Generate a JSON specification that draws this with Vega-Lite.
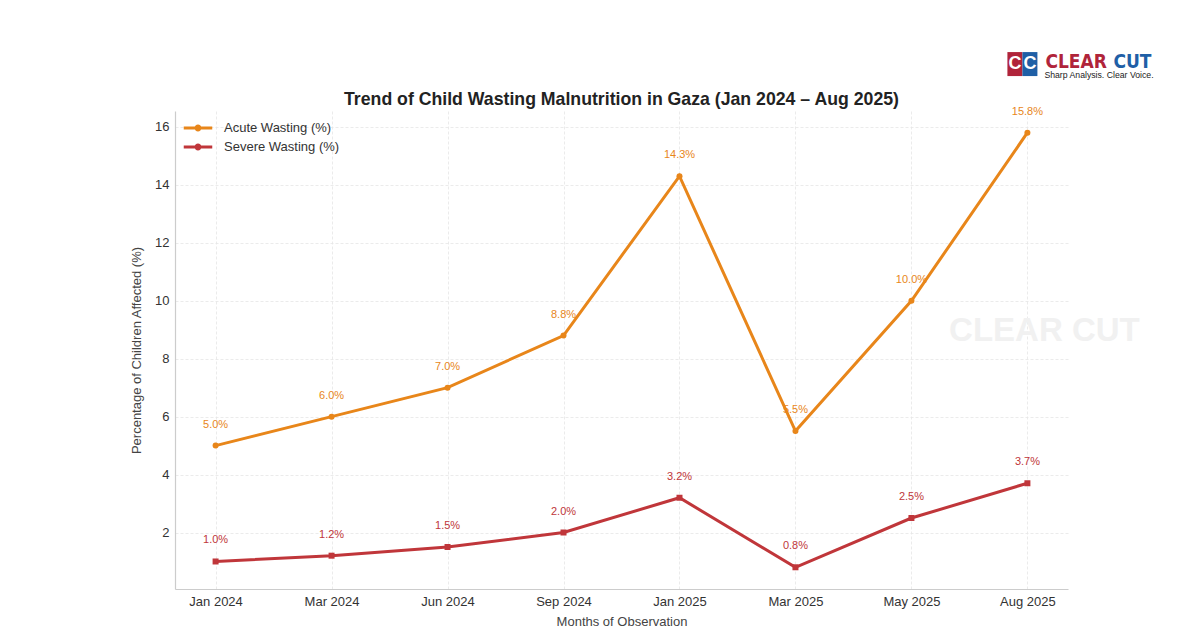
{
  "$schema": "https://vega.github.io/schema/vega-lite/v6.json",
  "autosize": "none",
  "width": 893,
  "height": 478,
  "padding": {"left": 175, "top": 111, "right": 132, "bottom": 41},
  "background": "white",
  "config": {
    "font": "Liberation Sans",
    "view": {"stroke": null},
    "axis": {"labelFont": "Liberation Sans", "titleFont": "Liberation Sans", "labelColor": "#333333", "titleColor": "#444444", "labelFontSize": 13, "titleFontSize": 13, "titleFontWeight": "normal", "domainColor": "#cccccc", "domainWidth": 1.2, "gridColor": "#e6e6e6", "gridDash": [3, 2], "gridWidth": 0.8, "ticks": false}
  },
  "title": {"text": "Trend of Child Wasting Malnutrition in Gaza (Jan 2024 – Aug 2025)", "fontSize": 17.7, "fontWeight": "bold", "color": "#222222", "font": "Liberation Sans", "offset": -57},
  "datasets": {
    "main": [
      {"month": "Jan 2024", "series": "Acute Wasting (%)", "value": 5.0, "label": "5.0%"},
      {"month": "Mar 2024", "series": "Acute Wasting (%)", "value": 6.0, "label": "6.0%"},
      {"month": "Jun 2024", "series": "Acute Wasting (%)", "value": 7.0, "label": "7.0%"},
      {"month": "Sep 2024", "series": "Acute Wasting (%)", "value": 8.8, "label": "8.8%"},
      {"month": "Jan 2025", "series": "Acute Wasting (%)", "value": 14.3, "label": "14.3%"},
      {"month": "Mar 2025", "series": "Acute Wasting (%)", "value": 5.5, "label": "5.5%"},
      {"month": "May 2025", "series": "Acute Wasting (%)", "value": 10.0, "label": "10.0%"},
      {"month": "Aug 2025", "series": "Acute Wasting (%)", "value": 15.8, "label": "15.8%"},
      {"month": "Jan 2024", "series": "Severe Wasting (%)", "value": 1.0, "label": "1.0%"},
      {"month": "Mar 2024", "series": "Severe Wasting (%)", "value": 1.2, "label": "1.2%"},
      {"month": "Jun 2024", "series": "Severe Wasting (%)", "value": 1.5, "label": "1.5%"},
      {"month": "Sep 2024", "series": "Severe Wasting (%)", "value": 2.0, "label": "2.0%"},
      {"month": "Jan 2025", "series": "Severe Wasting (%)", "value": 3.2, "label": "3.2%"},
      {"month": "Mar 2025", "series": "Severe Wasting (%)", "value": 0.8, "label": "0.8%"},
      {"month": "May 2025", "series": "Severe Wasting (%)", "value": 2.5, "label": "2.5%"},
      {"month": "Aug 2025", "series": "Severe Wasting (%)", "value": 3.7, "label": "3.7%"}
    ],
    "brand": [
      {"month": "Aug 2025", "value": 8.95, "t": "CLEAR CUT", "role": "watermark"},
      {"month": "Aug 2025", "value": 18.02, "t": "CLEAR", "role": "logo1"},
      {"month": "Aug 2025", "value": 18.02, "t": "CUT", "role": "logo2"},
      {"month": "Aug 2025", "value": 17.68, "t": "Sharp Analysis. Clear Voice.", "role": "tagline"},
      {"month": "Aug 2025", "value": 18.17, "t": "C", "role": "icon"}
    ]
  },
  "encoding": {
    "x": {"field": "month", "type": "ordinal", "sort": ["Jan 2024", "Mar 2024", "Jun 2024", "Sep 2024", "Jan 2025", "Mar 2025", "May 2025", "Aug 2025"],
      "scale": {"type": "point", "padding": 0.35},
      "axis": {"title": "Months of Observation", "labelAngle": 0, "grid": true, "labelPadding": 6, "titlePadding": 7}},
    "y": {"field": "value", "type": "quantitative",
      "scale": {"domain": [0.05, 16.55], "nice": false, "zero": false},
      "axis": {"title": "Percentage of Children Affected (%)", "values": [2, 4, 6, 8, 10, 12, 14, 16], "grid": true, "labelPadding": 6, "titlePadding": 11}}
  },
  "layer": [
    {"data": {"name": "main"}, "mark": {"type": "line", "strokeWidth": 3},
      "encoding": {"color": {"field": "series", "type": "nominal",
        "scale": {"domain": ["Acute Wasting (%)", "Severe Wasting (%)"], "range": ["#E8861A", "#C0363A"]},
        "legend": {"title": null, "orient": "none", "legendX": 12, "legendY": 6, "symbolType": "M-1.5,0H1.5M0.2,0A0.2,0.2,0,1,1,-0.2,0A0.2,0.2,0,1,1,0.2,0", "symbolFillColor": "transparent", "symbolStrokeWidth": 3, "symbolSize": 361, "labelFontSize": 13, "labelColor": "#333333", "rowPadding": 0, "labelOffset": 15}}}},
    {"data": {"name": "main"}, "transform": [{"filter": "datum.series === 'Acute Wasting (%)'"}],
      "mark": {"type": "point", "filled": true, "opacity": 1, "shape": "circle", "size": 36, "color": "#E8861A"}},
    {"data": {"name": "main"}, "transform": [{"filter": "datum.series === 'Severe Wasting (%)'"}],
      "mark": {"type": "point", "filled": true, "opacity": 1, "shape": "square", "size": 36, "color": "#C0363A"}},
    {"data": {"name": "main"}, "mark": {"type": "text", "dy": -21, "fontSize": 11, "font": "Liberation Sans"},
      "encoding": {"text": {"field": "label"}, "color": {"field": "series", "type": "nominal", "legend": null}}},
    {"data": {"name": "brand"}, "transform": [{"filter": "datum.role === 'watermark'"}],
      "mark": {"type": "text", "fontSize": 33, "fontWeight": "bold", "align": "center", "baseline": "middle", "dx": 17, "color": "#f1f1f1", "clip": false},
      "encoding": {"text": {"field": "t"}}},
    {"data": {"name": "brand"}, "transform": [{"filter": "datum.role === 'logo1'"}],
      "mark": {"type": "text", "fontSize": 19, "fontWeight": "bold", "align": "left", "baseline": "alphabetic", "dx": 18, "color": "#B0243A", "font": "DejaVu Sans Condensed", "clip": false},
      "encoding": {"text": {"field": "t"}}},
    {"data": {"name": "brand"}, "transform": [{"filter": "datum.role === 'logo2'"}],
      "mark": {"type": "text", "fontSize": 19, "fontWeight": "bold", "align": "left", "baseline": "alphabetic", "dx": 86, "color": "#1F5FA6", "font": "DejaVu Sans Condensed", "clip": false},
      "encoding": {"text": {"field": "t"}}},
    {"data": {"name": "brand"}, "transform": [{"filter": "datum.role === 'tagline'"}],
      "mark": {"type": "text", "fontSize": 8.7, "align": "left", "baseline": "alphabetic", "dx": 17, "color": "#222222", "clip": false},
      "encoding": {"text": {"field": "t"}}},
    {"data": {"name": "brand"}, "transform": [{"filter": "datum.role === 'icon'"}],
      "mark": {"type": "point", "filled": true, "opacity": 1, "shape": "M-0.625,-1H0.625V1H-0.625Z", "size": 576, "xOffset": -12.5, "color": "#B0243A", "clip": false}},
    {"data": {"name": "brand"}, "transform": [{"filter": "datum.role === 'icon'"}],
      "mark": {"type": "point", "filled": true, "opacity": 1, "shape": "M-0.625,-1H0.625V1H-0.625Z", "size": 576, "xOffset": 2.5, "color": "#1F5FA6", "clip": false}},
    {"data": {"name": "brand"}, "transform": [{"filter": "datum.role === 'icon'"}],
      "mark": {"type": "text", "fontSize": 18, "fontWeight": "bold", "align": "center", "baseline": "middle", "dx": -12.5, "color": "white", "clip": false},
      "encoding": {"text": {"field": "t"}}},
    {"data": {"name": "brand"}, "transform": [{"filter": "datum.role === 'icon'"}],
      "mark": {"type": "text", "fontSize": 18, "fontWeight": "bold", "align": "center", "baseline": "middle", "dx": 2.5, "color": "white", "clip": false},
      "encoding": {"text": {"field": "t"}}}
  ]
}
